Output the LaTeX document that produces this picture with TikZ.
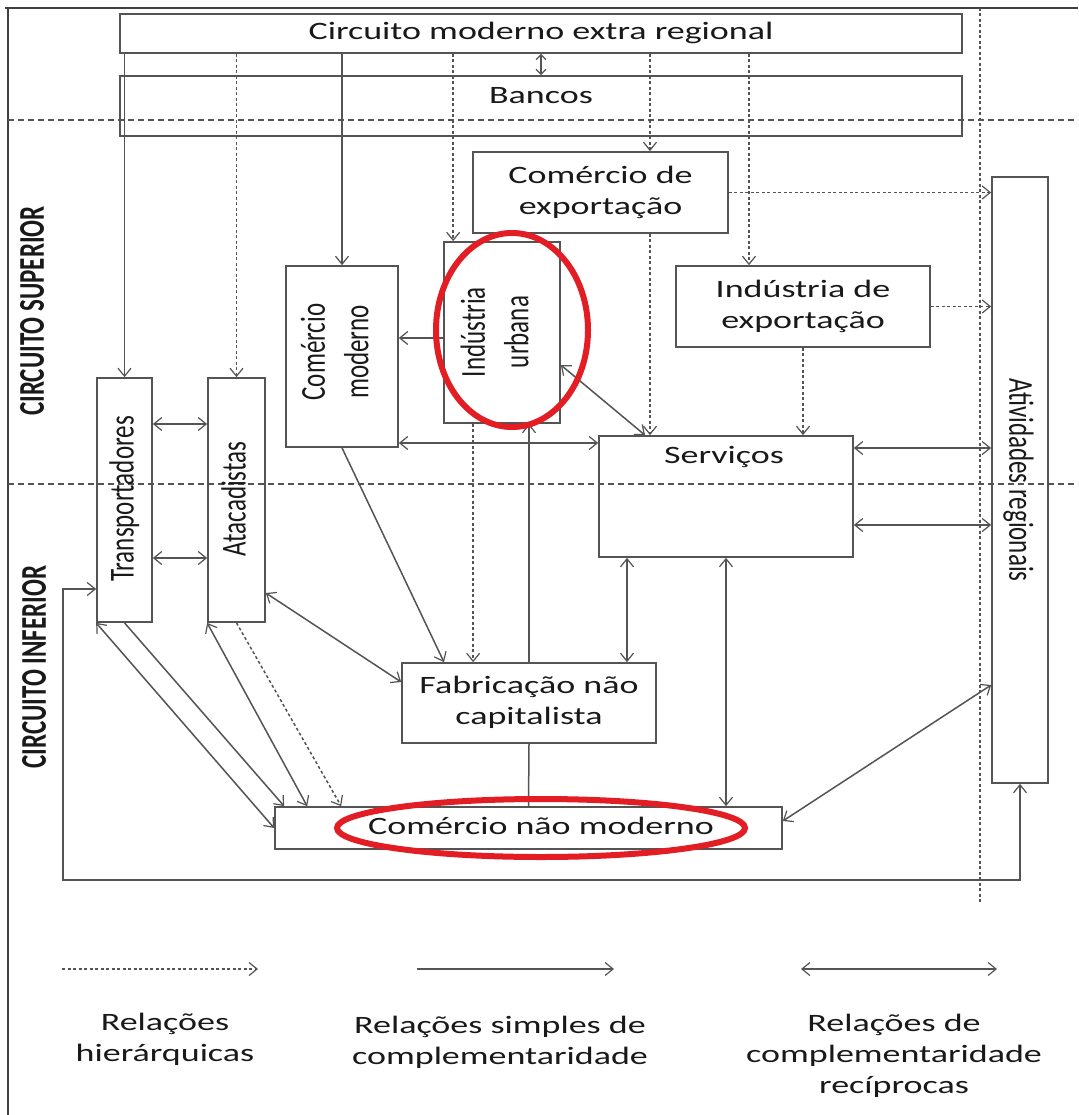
\documentclass[tikz,border=0pt]{standalone}
\usepackage{fontspec}
\setmainfont{Carlito}
\usetikzlibrary{arrows.meta}
\definecolor{lc}{gray}{0.33}
\definecolor{tc}{gray}{0.1}
\definecolor{redc}{RGB}{226,30,36}
\newcommand{\hbx}[1]{\scalebox{1.44}[1]{\begin{tabular}{@{}c@{}}#1\end{tabular}}}
\newcommand{\vbx}[1]{\scalebox{1}[1.4]{\begin{tabular}{@{}c@{}}#1\end{tabular}}}
\begin{document}
\begin{tikzpicture}[x=1pt,y=-1pt,
  font=\fontsize{25}{31}\selectfont, text=tc,
  >={Straight Barb[length=8pt,width=13pt,line width=1.2pt]},
  box/.style={draw=lc,line width=1.7pt,rectangle,inner sep=0pt},
  txt/.style={inner sep=0pt},
  sline/.style={draw=lc,line width=1.5pt},
  sarr/.style={sline,->},
  darr/.style={sline,<->},
  harr/.style={sline,->,dash pattern=on 3pt off 2.5pt},
  sep/.style={draw=lc,line width=1.3pt,dash pattern=on 6pt off 4pt},
  dotsep/.style={draw=lc,line width=1.4pt,dash pattern=on 3pt off 2.5pt},
  frame/.style={draw=black!75,line width=2.2pt}]
\useasboundingbox (0,0) rectangle (1078,1115);
\fill[white] (0,0) rectangle (1078,1115);
% frame and separators
\draw[frame] (5,8) -- (1078,8);
\draw[frame] (8,8) -- (8,1115);
\draw[sep] (8,120) -- (1078,120);
\draw[sep] (8,484) -- (1078,484);
\draw[dotsep] (980,8) -- (980,902);
% boxes
\node[box, minimum width=842pt, minimum height=39pt] (cme) at (541,33.5) {\hbx{Circuito moderno extra regional}};
\node[box, minimum width=842pt, minimum height=60pt] (ban) at (541,106) {};
\node[txt] (bantxt) at (541,97) {\hbx{Bancos}};
\node[box, minimum width=255pt, minimum height=81pt] (cex) at (600.5,192.5) {\hbx{Comércio de\\exportação}};
\node[box, minimum width=254pt, minimum height=81pt] (iex) at (803,306.5) {\hbx{Indústria de\\exportação}};
\node[box, minimum width=112pt, minimum height=181pt] (cmo) at (342,356.5) {};
\node[txt, rotate=90] (cmotxt) at (338,352) {\vbx{Comércio\\moderno}};
\node[box, minimum width=116pt, minimum height=181pt] (iur) at (502,332.5) {};
\node[txt, rotate=90] (iurtxt) at (498,332) {\vbx{Indústria\\urbana}};
\node[box, minimum width=55pt, minimum height=244pt] (tra) at (124.5,500) {};
\node[txt, rotate=90] (tratxt) at (125,499) {\vbx{Transportadores}};
\node[box, minimum width=57pt, minimum height=244pt] (ata) at (236.5,500) {};
\node[txt, rotate=90] (atatxt) at (237,499) {\vbx{Atacadistas}};
\node[box, minimum width=254pt, minimum height=121pt] (ser) at (726,496.5) {};
\node[txt] (sertxt) at (724,457) {\hbx{Serviços}};
\node[box, fill=white, minimum width=254pt, minimum height=80pt] (fab) at (529,703) {\hbx{Fabricação não\\capitalista}};
\node[box, minimum width=507pt, minimum height=42pt] (cnm) at (528.5,828) {};
\node[txt] (cnmtxt) at (541,828) {\hbx{Comércio não moderno}};
\node[box, minimum width=56pt, minimum height=606pt] (atv) at (1020,480) {};
\node[txt, rotate=-90] (atvtxt) at (1018,480) {\vbx{Atividades regionais}};
% side labels
\node[txt, rotate=90, font=\fontsize{25}{31}\selectfont\bfseries] (csup) at (32,311) {\scalebox{1}[1.45]{CIRCUITO SUPERIOR}};
\node[txt, rotate=90, font=\fontsize{25}{31}\selectfont\bfseries] (cinf) at (34,667) {\scalebox{1}[1.45]{CIRCUITO INFERIOR}};
% connectors from the top box
\draw[sarr] (tra.north |- cme.south) -- (tra.north);
\draw[harr] (ata.north |- cme.south) -- (ata.north);
\draw[sarr] (cmo.north |- cme.south) -- (cmo.north);
\draw[harr] ([xshift=10pt]iur.north west |- cme.south) -- ([xshift=10pt]iur.north west);
\draw[sline,{Straight Barb[length=5pt,width=10pt,line width=1.2pt]}-{Straight Barb[length=5pt,width=10pt,line width=1.2pt]}] (cme.south) -- (ban.north);
\draw[harr] ([xshift=49.5pt]cex.north |- cme.south) -- ([xshift=49.5pt]cex.north);
\draw[harr] ([xshift=-54pt]iex.north |- cme.south) -- ([xshift=-54pt]iex.north);
% export boxes
\draw[harr] (cex.east) -- (cex.east -| atv.west);
\draw[harr] (iex.east) -- (iex.east -| atv.west);
\draw[harr] ([xshift=49.5pt]cex.south) -- ([xshift=49.5pt]cex.south |- ser.north);
\draw[harr] (iex.south) -- (iex.south |- ser.north);
% upper circuit relations
\draw[sarr] ([yshift=-5.5pt]iur.west) -- ([yshift=-5.5pt]iur.west -| cmo.east);
\draw[darr] ([yshift=-32.5pt]iur.east) -- ([xshift=-81pt]ser.north);
\draw[darr] ([yshift=-86.5pt]cmo.east) -- ([yshift=-86.5pt]cmo.east -| ser.west);
\draw[darr] ([yshift=76pt]tra.east) -- ([yshift=76pt]tra.east -| ata.west);
\draw[darr] ([yshift=-58pt]tra.east) -- ([yshift=-58pt]tra.east -| ata.west);
\draw[sarr] (cmo.south) -- ([xshift=-85pt]fab.north);
\draw[harr] ([xshift=30pt]iur.south west) -- ([xshift=30pt]iur.south west |- fab.north);
\draw[sline] (cnm.north) -- (fab.south);
\draw[sarr] (fab.north) -- (fab.north |- iur.south);
\draw[darr] ([xshift=-99pt]ser.south) -- ([xshift=-99pt]ser.south |- fab.north);
\draw[darr] (ser.south) -- (ser.south |- cnm.north);
\draw[darr] ([yshift=48.5pt]ser.east) -- ([yshift=48.5pt]ser.east -| atv.west);
\draw[darr] ([yshift=-28.5pt]ser.east) -- ([yshift=-28.5pt]ser.east -| atv.west);
\draw[darr] ([yshift=-93pt]ata.east) -- ([yshift=21pt]fab.west);
% lower circuit relations
\draw[darr] (tra.south west) -- (cnm.west);
\draw[sarr] (tra.south) -- ([xshift=10pt]cnm.north west);
\draw[darr] (ata.south west) -- ([xshift=33pt]cnm.north west);
\draw[harr] (ata.south) -- ([xshift=67pt]cnm.north west);
\draw[darr] ([yshift=7pt]cnm.east) -- ([yshift=-205pt]atv.west);
\coordinate (loop) at (63,880);
\draw[darr] ([yshift=-89pt]tra.west) -| (loop) -| (atv.south);
% highlights
\draw[redc, line width=6pt] (512,330) ellipse [x radius=76pt, y radius=97pt];
\draw[redc, line width=6pt] (541,828) ellipse [x radius=204pt, y radius=29pt];
% legend
\coordinate (l1a) at (62,969); \coordinate (l1b) at (258,969);
\coordinate (l2a) at (417,969); \coordinate (l2b) at (614,969);
\coordinate (l3a) at (801,969); \coordinate (l3b) at (997,969);
\draw[harr] (l1a) -- (l1b);
\draw[sarr] (l2a) -- (l2b);
\draw[darr] (l3a) -- (l3b);
\node[txt] (lt1) at (165,1040) {\hbx{Relações\\hierárquicas}};
\node[txt] (lt2) at (500,1043) {\hbx{Relações simples de\\complementaridade}};
\node[txt] (lt3) at (894,1056) {\hbx{Relações de\\complementaridade\\recíprocas}};
\end{tikzpicture}
\end{document}
